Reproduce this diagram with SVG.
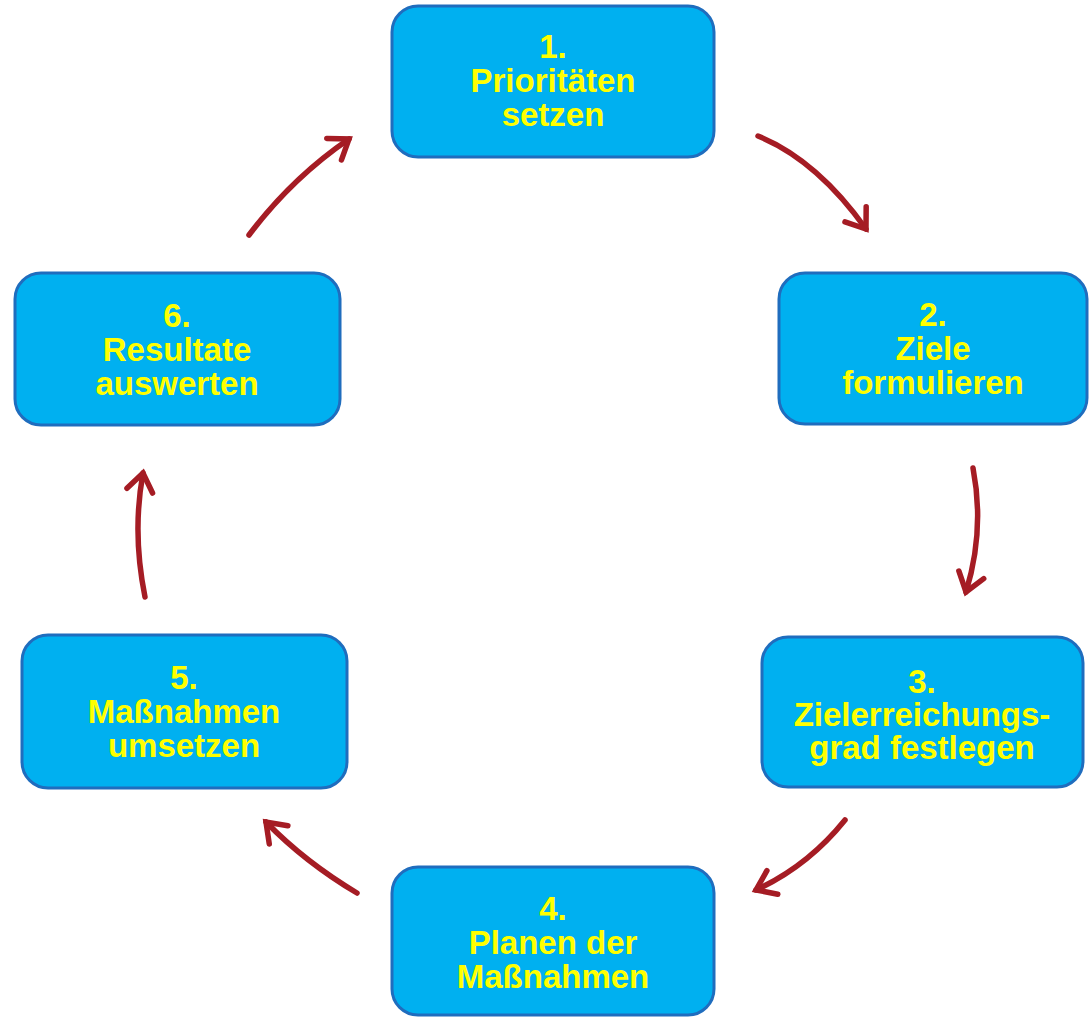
<svg xmlns="http://www.w3.org/2000/svg" width="1089" height="1017" viewBox="0 0 1089 1017">
  <defs>
    <style>
      .box { fill: #00B0F0; stroke: #1F6DBE; stroke-width: 3; }
      .lbl { font-family: "Liberation Sans", Arial, sans-serif; font-weight: bold; font-size: 33px; fill: #FFFF00; text-anchor: middle; }
      .arr { fill: none; stroke: #A51C24; stroke-width: 5.5; stroke-linecap: round; marker-end: url(#head); }
    </style>
    <marker id="head" markerUnits="userSpaceOnUse" markerWidth="40" markerHeight="40" viewBox="-26 -20 32 40" refX="0" refY="0" orient="auto">
      <path d="M -18 -13 L 0 0 L -18 13" fill="none" stroke="#A51C24" stroke-width="5.5" stroke-linecap="round" stroke-linejoin="miter"/>
    </marker>
  </defs>
  <rect width="1089" height="1017" fill="#FFFFFF"/>

  <g id="connectors">
    <path class="arr" d="M 758 136 Q 817 160 866 229"/>
    <path class="arr" d="M 973 468 Q 985 530 966 592"/>
    <path class="arr" d="M 845 820 Q 808 866 756 890"/>
    <path class="arr" d="M 357 893 Q 305 862 266 822"/>
    <path class="arr" d="M 145 597 Q 132 533 143 473"/>
    <path class="arr" d="M 249 235 Q 292 178 349 139"/>
  </g>

  <g id="node1">
    <rect class="box" x="392" y="6" width="322" height="151" rx="26"/>
    <text class="lbl" x="553" y="58">1.</text>
    <text class="lbl" x="553" y="92">Prioritäten</text>
    <text class="lbl" x="553" y="126">setzen</text>
  </g>
  <g id="node2">
    <rect class="box" x="779" y="273" width="308" height="151" rx="26"/>
    <text class="lbl" x="933" y="326">2.</text>
    <text class="lbl" x="933" y="360">Ziele</text>
    <text class="lbl" x="933" y="394">formulieren</text>
  </g>
  <g id="node3">
    <rect class="box" x="762" y="637" width="321" height="150" rx="26"/>
    <text class="lbl" x="922" y="693">3.</text>
    <text class="lbl" x="922" y="726">Zielerreichungs-</text>
    <text class="lbl" x="922" y="759">grad festlegen</text>
  </g>
  <g id="node4">
    <rect class="box" x="392" y="867" width="322" height="148" rx="26"/>
    <text class="lbl" x="553" y="920">4.</text>
    <text class="lbl" x="553" y="954">Planen der</text>
    <text class="lbl" x="553" y="988">Maßnahmen</text>
  </g>
  <g id="node5">
    <rect class="box" x="22" y="635" width="325" height="153" rx="26"/>
    <text class="lbl" x="184" y="689">5.</text>
    <text class="lbl" x="184" y="723">Maßnahmen</text>
    <text class="lbl" x="184" y="757">umsetzen</text>
  </g>
  <g id="node6">
    <rect class="box" x="15" y="273" width="325" height="152" rx="26"/>
    <text class="lbl" x="177" y="327">6.</text>
    <text class="lbl" x="177" y="361">Resultate</text>
    <text class="lbl" x="177" y="395">auswerten</text>
  </g>
</svg>
